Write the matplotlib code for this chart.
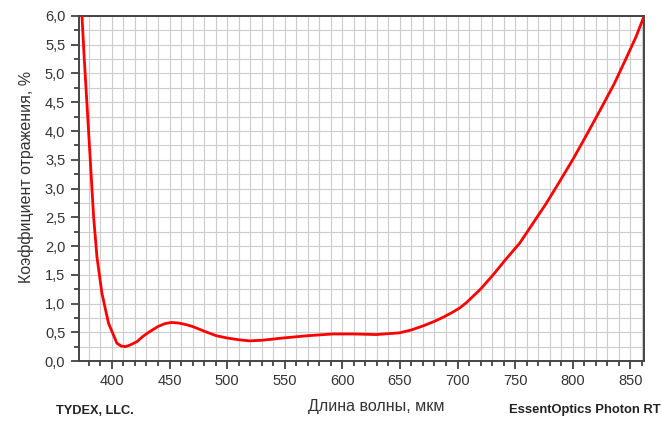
import matplotlib
matplotlib.use("Agg")
import matplotlib.pyplot as plt
from matplotlib.ticker import MultipleLocator, FuncFormatter

# values
wavelength = [374, 376, 378.3, 381.2, 384.1, 387, 391.3, 397, 404.3, 408, 411.8,
              416, 422, 427, 432, 440, 446, 451.5, 458, 465, 470, 480, 490.5,
              500, 510, 519.4, 530, 548.4, 570, 591.8, 610, 629.5, 649.7, 660,
              670, 680, 687.4, 695, 701.8, 708, 720, 731, 742, 754, 765, 777,
              788, 800, 812, 824, 836, 847, 855, 862]
reflect = [6.0, 5.25, 4.48, 3.50, 2.51, 1.81, 1.18, 0.66, 0.31, 0.26, 0.25,
           0.28, 0.34, 0.43, 0.50, 0.60, 0.65, 0.67, 0.66, 0.63, 0.60, 0.52, 0.44,
           0.40, 0.37, 0.35, 0.36, 0.40, 0.44, 0.47, 0.47, 0.46, 0.49, 0.54,
           0.61, 0.69, 0.76, 0.84, 0.92, 1.02, 1.25, 1.50, 1.77, 2.05, 2.38, 2.74,
           3.10, 3.50, 3.93, 4.37, 4.82, 5.29, 5.64, 6.0]

plt.rcParams['font.family'] = ['Liberation Sans', 'DejaVu Sans']

fig = plt.figure(figsize=(6.62, 4.21), dpi=100)
ax = fig.add_axes([0.1186, 0.1425, 0.973 - 0.1186, 0.962 - 0.1425])

ax.plot(wavelength, reflect, color="#ff0000", lw=2.0, zorder=3)

ax.set_xlim(371, 862)
ax.set_ylim(0, 6.0)
ax.xaxis.set_major_locator(MultipleLocator(50))
ax.xaxis.set_minor_locator(MultipleLocator(10))
ax.yaxis.set_major_locator(MultipleLocator(0.5))
ax.yaxis.set_minor_locator(MultipleLocator(0.25))
ax.yaxis.set_major_formatter(FuncFormatter(lambda v, p: f"{v:.1f}".replace(".", ",")))

ax.grid(which="both", color="#cccccc", lw=0.8, zorder=0)
ax.tick_params(which="major", direction="out", length=6, width=1.2, color="#333333",
               labelsize=10.5, labelcolor="#333333")
ax.tick_params(which="minor", direction="out", length=3.5, width=1.2, color="#333333")
for s in ax.spines.values():
    s.set_color("#444444")
    s.set_linewidth(1.4)

# axis titles placed as in the reference (slightly off-centre)
fig.text(376.5 / 662, 1 - 407 / 421, "Длина волны, мкм", fontsize=11.5,
         color="#333333", ha="center", va="center")
fig.text(26.5 / 662, 1 - 176.5 / 421, "Коэффициент отражения, %", fontsize=11.5,
         color="#333333", ha="center", va="center", rotation=90)

fig.text(56 / 662, 1 - 411 / 421, "TYDEX, LLC.", fontsize=9.2, fontweight="bold",
         color="#222222", va="center")
fig.text(661 / 662, 1 - 410 / 421, "EssentOptics Photon RT", fontsize=9.4,
         fontweight="bold", color="#222222", ha="right", va="center")

fig.savefig("out.png", dpi=100)
